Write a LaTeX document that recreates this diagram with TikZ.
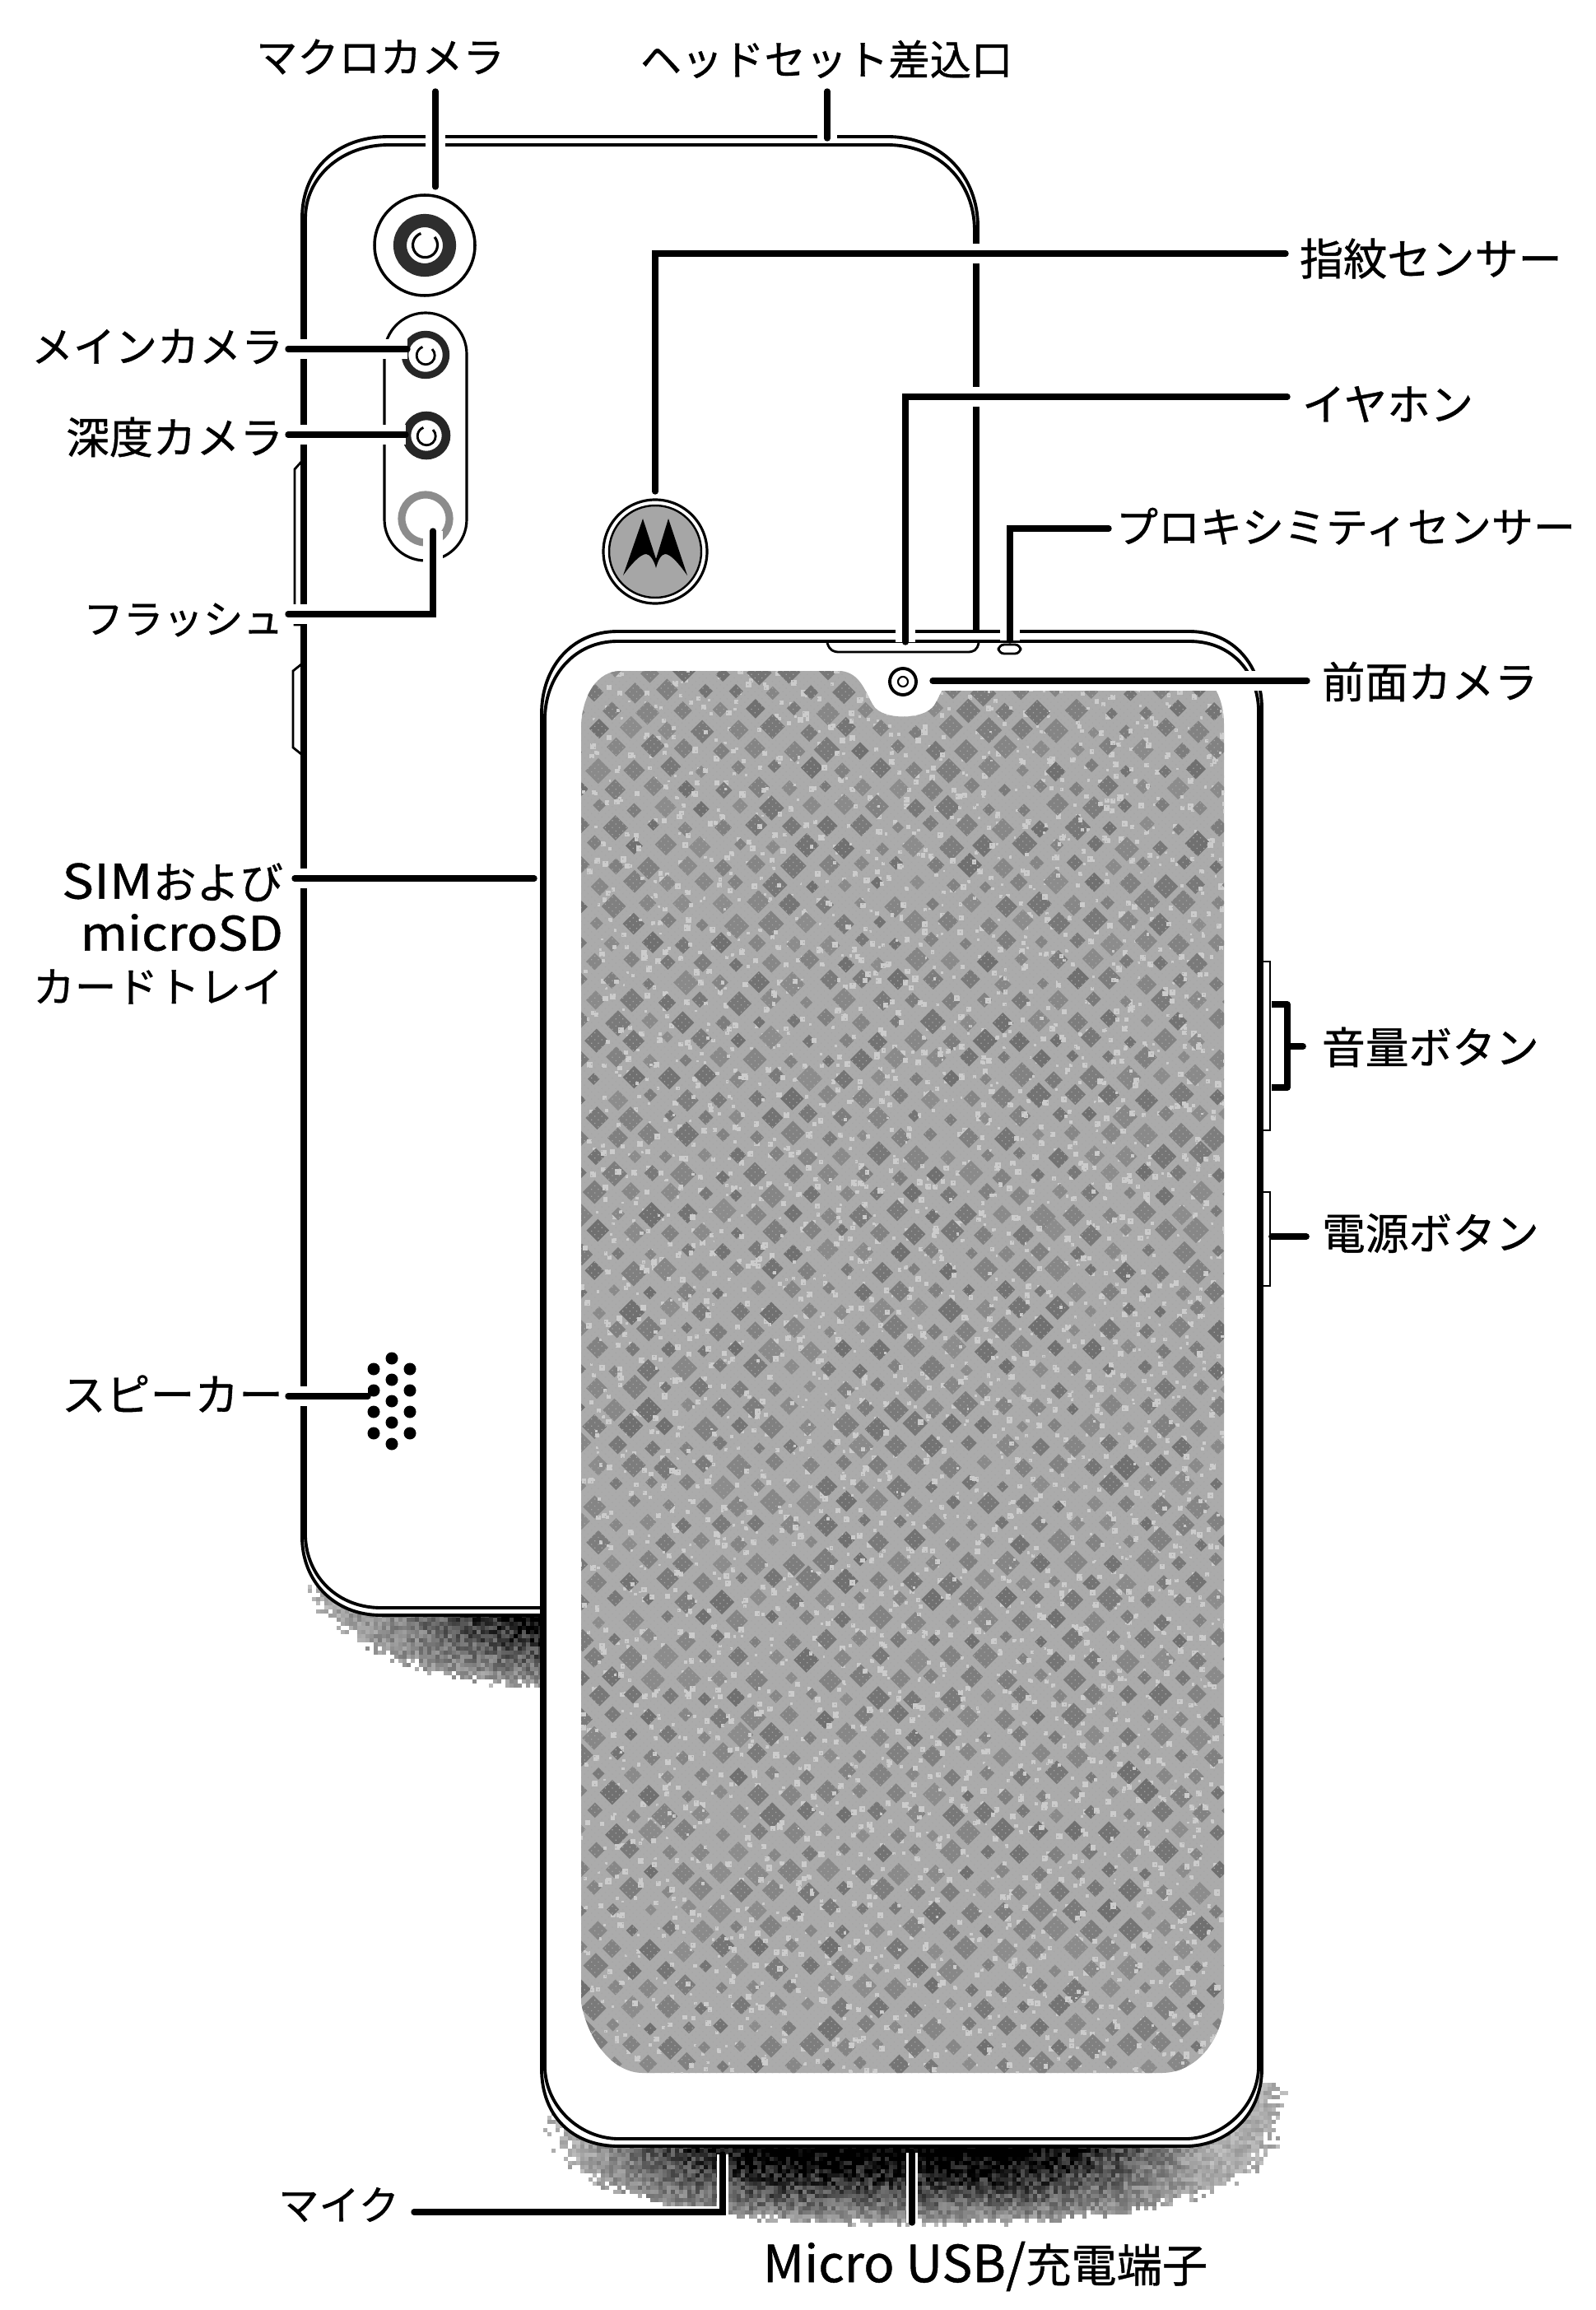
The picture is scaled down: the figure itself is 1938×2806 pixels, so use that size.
\documentclass[tikz,border=0pt]{standalone}
\usepackage{fontspec}
\setmainfont[FakeBold=0.7]{Noto Sans CJK JP}
\usetikzlibrary{calc,patterns.meta}
\definecolor{scr}{HTML}{ABABAB}
\newcommand\fsz[1]{\fontsize{#1}{17.9}\selectfont}
\newcommand\cellpaint[4]{% x, y, density, fade
 \pgfmathparse{(rnd<#4)?1:0}%
 \ifnum\pgfmathresult=1
  \pgfmathtruncatemacro\sh{max(0,min(100,100*#3*(0.75+rnd*0.5)))}%
  \fill[black!\sh] (#1,#2) rectangle ++(5.3,5.3);%
 \fi}
\newcommand\ditherF[2]{%
 \pgfmathsetmacro\dd{0.33+0.85*min(1,1.7*max(0,1-1.15*abs(#1-1085)/440))*(1-max(0,(#2-2607)/96))}%
 \pgfmathsetmacro\ff{(1-pow((abs(#1-1110)+0.5)/455,2.6)-pow((abs(#2-2560)+0.5)/143,2.6))/0.16}%
 \cellpaint{#1}{#2}{\dd}{\ff}}
\newcommand\ditherB[2]{%
 \pgfmathsetmacro\dd{0.32+0.85*pow((#1-369)/291,1.5)*(1-max(0,(#2-1958)/95))}%
 \pgfmathsetmacro\ff{(1-pow((#1-670)/310,2)-pow((#2-1900)/152,2))/0.16}%
 \cellpaint{#1}{#2}{\dd}{\ff}}
\tikzset{
 x=0.01cm,y=-0.01cm,
 lbl/.style={inner sep=0pt,outer sep=0pt,text=black},
 lblL/.style={lbl,anchor=east,align=right},
 lblR/.style={lbl,anchor=west},
 leader/.style={line width=2.1pt,draw=black,line cap=round,line join=miter,preaction={draw=white,line width=6.6pt,line cap=butt}},
 leaderB/.style={line width=2.1pt,draw=black,line cap=round,line join=miter,preaction={draw=white,line width=4pt,line cap=butt}},
 shell/.style={draw=black,line width=1.1pt},
 thin1/.style={draw=black,line width=0.8pt},
}
\begin{document}
\begin{tikzpicture}
\useasboundingbox (0,0) rectangle (1938,2806);
\fill[white] (0,0) rectangle (1938,2806);
% --- back-phone shadow (dither)
\pgfmathsetseed{11}
\foreach \xx in {369,374,...,660}{\foreach \yy in {1925,1930,...,2056}{\ditherB{\xx}{\yy}}}
% --- back phone
\path[fill=white] (367,265) .. controls (367,205) and (410,166) .. (472,166) -- (1078,166) .. controls (1145,166) and (1188,215) .. (1188,275) -- (1188,800) -- (700,1963) -- (463,1962) .. controls (405,1962) and (367,1920) .. (367,1867) -- cycle;
\draw[shell] (1188,800) -- (1188,275) .. controls (1188,215) and (1145,166) .. (1078,166) -- (472,166) .. controls (410,166) and (367,205) .. (367,265) -- (367,1867) .. controls (367,1920) and (405,1962) .. (463,1962) -- (665,1962);
\draw[shell] (1184,800) -- (1184,280) .. controls (1184,220) and (1140,176) .. (1078,176) -- (472,176) .. controls (415,176) and (371,215) .. (371,265) -- (371,1867) .. controls (373,1915) and (410,1953) .. (463,1953) -- (665,1953);
% side buttons on the back
\draw[thin1] (366,561) -- (358,570) -- (358,759) -- (366,759);
\draw[thin1] (366,807) -- (356,815) -- (356,908) -- (366,916);
% --- macro camera
\draw[line width=1pt] (516,298) circle (61);
\draw[line width=4.6pt,draw=black!82] (516,298) circle (30);
\draw[line width=0.9pt] (528,288) arc (-40:250:15);
% --- camera strip
\draw[line width=0.9pt] (467,430) arc (180:360:50) -- (567,631) arc (0:180:50) -- cycle;
% main
\draw[line width=2.4pt,draw=black!85] (517,431) circle (25);
\draw[line width=0.8pt] (525,424) arc (-45:250:11);
% depth
\draw[line width=3pt,draw=black!85] (518,529) circle (24);
\draw[line width=0.8pt] (526,522) arc (-45:250:11);
% flash
\fill[white] (517,630) circle (33);
\draw[line width=2.6pt,draw=black!45] (517,630) circle (29);
% --- logo
\draw[line width=0.9pt,fill=white] (796,670) circle (63);
\draw[line width=0.7pt,fill=black!35] (796,670) circle (56);
\fill[black] (757,699) -- (781,630) -- (797,679) -- (812,630) -- (835,699) .. controls (825,685) and (815,673) .. (808,673) .. controls (803,673) and (799,682) .. (797,690) .. controls (795,682) and (790,673) .. (785,673) .. controls (778,673) and (767,685) .. (757,699) -- cycle;
% --- speaker
\foreach \yy in {1663,1689,1715,1741}{\fill (454,\yy) circle (7.5);\fill (498,\yy) circle (7.5);}
\foreach \yy in {1650,1676,1702,1728,1754}{\fill (476,\yy) circle (7.5);}
% --- front-phone shadow (dither)
\foreach \xx in {655,660,...,1565}{\foreach \yy in {2600,2605,...,2705}{\ditherF{\xx}{\yy}}}
\foreach \xx in {655,660,...,760}{\foreach \yy in {2530,2535,...,2595}{\ditherF{\xx}{\yy}}}
\foreach \xx in {1430,1435,...,1565}{\foreach \yy in {2530,2535,...,2595}{\ditherF{\xx}{\yy}}}
% --- front phone
\path[fill=white] (658,867) .. controls (658,810) and (695,767) .. (750,767) -- (1445,767) .. controls (1500,767) and (1533,810) .. (1533,860) -- (1533,2513) .. controls (1533,2570) and (1490,2607) .. (1440,2607) -- (752,2607) .. controls (695,2607) and (658,2570) .. (658,2513) -- cycle;
\draw[shell] (658,867) .. controls (658,810) and (695,767) .. (750,767) -- (1445,767) .. controls (1500,767) and (1533,810) .. (1533,860) -- (1533,2513) .. controls (1533,2570) and (1490,2607) .. (1440,2607) -- (752,2607) .. controls (695,2607) and (658,2570) .. (658,2513) -- cycle;
\draw[shell] (662,870) .. controls (664,818) and (700,779) .. (750,779) -- (1445,779) .. controls (1495,779) and (1527,815) .. (1529,860) -- (1529,2513) .. controls (1527,2560) and (1485,2598) .. (1440,2598) -- (752,2598) .. controls (705,2598) and (664,2560) .. (662,2513) -- cycle;
% earpiece and proximity sensor
\draw[thin1] (1005,781) .. controls (1008,790) and (1012,792) .. (1020,792) -- (1175,792) .. controls (1183,792) and (1187,790) .. (1189,781);
\draw[thin1,rounded corners=2pt] (1213,783) rectangle (1240,794);
% side buttons of the front
\draw[thin1] (1534,1168) -- (1543,1168) -- (1543,1373) -- (1534,1373);
\draw[thin1] (1534,1448) -- (1543,1448) -- (1543,1562) -- (1534,1562);
% --- screen
\begin{scope}
\clip (754,815) -- (1022,815) .. controls (1045,818) and (1050,838) .. (1061,857) .. controls (1072,875) and (1122,875) .. (1135,857) .. controls (1146,838) and (1150,818) .. (1174,815) -- (1440,815) .. controls (1470,815) and (1487,845) .. (1487,880) -- (1487,2440) .. controls (1480,2485) and (1450,2518) .. (1411,2518) -- (781,2518) .. controls (745,2518) and (715,2480) .. (706,2433) -- (706,880) .. controls (708,845) and (725,815) .. (754,815) -- cycle;
\fill[scr] (700,810) rectangle (1490,2520);
\pgfmathsetseed{7}
\foreach \r in {0,...,72}{
 \pgfmathtruncatemacro\off{mod(\r,2)*21}
 \foreach \c in {0,...,18}{
  \pgfmathsetmacro\cx{700+43*\c+\off+rnd*8}
  \pgfmathsetmacro\cy{812+23.5*\r+rnd*8}
  \pgfmathsetmacro\rr{7+rnd*9}
  \pgfmathtruncatemacro\sh{45+rnd*12}
  \fill[black!\sh] (\cx,\cy-\rr) -- (\cx+\rr,\cy) -- (\cx,\cy+\rr) -- (\cx-\rr,\cy) -- cycle;
  \foreach \k in {1,2,3}{
   \pgfmathsetmacro\lx{\cx+rnd*43}
   \pgfmathsetmacro\ly{\cy-12+rnd*24}
   \pgfmathsetmacro\rl{2.5+rnd*5}
   \fill[black!20] (\lx,\ly) rectangle ++(\rl,\rl);
  }
 }
}
\fill[pattern={Dots[distance=1.7pt,radius=0.25pt,angle=45]},pattern color=black!35] (700,810) rectangle (1490,2520);
\end{scope}
% front camera
\draw[line width=1.1pt] (1097,828) circle (16);
\draw[line width=0.6pt] (1097,828) circle (6);
% --- named points on the device
\coordinate (cMacro) at (529,227);
\coordinate (cHead) at (1005,168);
\coordinate (cMain) at (495,424);
\coordinate (cDepth) at (493,528);
\coordinate (cFlash) at (526,645);
\coordinate (cFlashK) at (526,746);
\coordinate (cFinger) at (796,597);
\coordinate (cFingerK) at (796,308);
\coordinate (cEar) at (1100,780);
\coordinate (cEarK) at (1100,482);
\coordinate (cProx) at (1227,778);
\coordinate (cProxK) at (1227,642);
\coordinate (cFront) at (1133,827);
\coordinate (cSim) at (649,1067);
\coordinate (cSpk) at (447,1696);
\coordinate (cMic) at (878,2617);
\coordinate (cMicK) at (878,2687);
\coordinate (cUsb) at (1108,2615);
\coordinate (cVolT) at (1545,1220);
\coordinate (cVolTK) at (1564,1220);
\coordinate (cVolB) at (1545,1321);
\coordinate (cVolBK) at (1564,1321);
\coordinate (cVolM) at (1564,1271);
\coordinate (cPow) at (1545,1502);
% --- labels
\node[lbl,font=\fsz{14.3}] (lMacro) at (462,69) {マクロカメラ};
\node[lbl,font=\fsz{14.3}] (lHead) at (1004,72) {ヘッドセット差込口};
\node[lblL,font=\fsz{14.5}] (lMain) at (344,421) {メインカメラ};
\node[lblL,font=\fsz{15}] (lDepth) at (344,531) {深度カメラ};
\node[lblL,font=\fsz{13.8}] (lFlash) at (344,753) {フラッシュ};
\node[lblL,font=\fsz{14.4}] (lSim) at (344,1134) {\scalebox{1.12}[1]{\fsz{16.5}SIM}{\fsz{15}および}\\\scalebox{1.08}[1]{\fsz{16.3}microSD}\\カードトレイ};
\node[lblL,font=\fsz{15.3}] (lSpk) at (344,1693) {スピーカー};
\node[lblR,font=\fsz{15.1}] (lFinger) at (1579,314) {指紋センサー};
\node[lblR,font=\fsz{14.9}] (lEar) at (1582,491) {イヤホン};
\node[lblR,font=\fsz{14.5}] (lProx) at (1356,640) {プロキシミティセンサー};
\node[lblR,font=\fsz{14.9}] (lFront) at (1606,828) {前面カメラ};
\node[lblR,font=\fsz{15}] (lVol) at (1606,1272) {音量ボタン};
\node[lblR,font=\fsz{15}] (lPow) at (1606,1498) {電源ボタン};
\node[lbl,anchor=east,font=\fsz{14}] (lMic) at (485,2678) {マイク};
\node[lbl] (lUsb) at (1197,2753) {{\fsz{17.6}Micro USB/}{\fsz{15.7}充電端子}};
% --- connectors
\draw[leader] (cMacro |- 0,111) -- (cMacro);
\draw[leader] (cHead |- 0,111) -- (cHead);
\draw[leader] ($(lMain.east |- cMain)+(6,0)$) -- (cMain);
\draw[leader] ($(lDepth.east |- cDepth)+(6,0)$) -- (cDepth);
\draw[leader] ($(lFlash.east |- cFlashK)+(6,0)$) -- (cFlashK) -- (cFlash);
\draw[leader] ($(lSim.east |- cSim)+(14,0)$) -- (cSim);
\draw[leader] ($(lSpk.east |- cSpk)+(6,0)$) -- (cSpk);
\draw[leader] ($(lFinger.west |- cFingerK)+(-17,0)$) -- (cFingerK) -- (cFinger);
\draw[leader] ($(lEar.west |- cEarK)+(-18,0)$) -- (cEarK) -- (cEar);
\draw[leader] ($(lProx.west |- cProxK)+(-9,0)$) -- (cProxK) -- (cProx);
\draw[leader] ($(lFront.west |- cFront)+(-18,0)$) -- (cFront);
\draw[leaderB] ($(lMic.east |- cMicK)+(18,0)$) -- (cMicK) -- (cMic);
\draw[leaderB] (cUsb |- 0,2700) -- (cUsb);
\draw[line width=2.2pt,line join=round] (cVolT) -- (cVolTK) -- (cVolBK) -- (cVolB);
\draw[line width=2.2pt,line cap=round] (cVolM) -- ($(lVol.west |- cVolM)+(-23,0)$);
\draw[line width=2.2pt,line cap=round] (cPow) -- ($(lPow.west |- cPow)+(-19,0)$);
\end{tikzpicture}
\end{document}
